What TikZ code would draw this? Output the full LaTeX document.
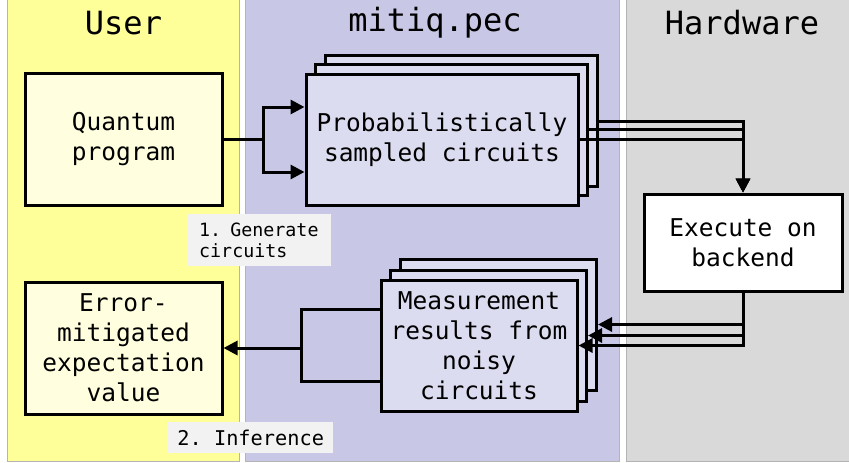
\documentclass[tikz,border=0pt]{standalone}
\usepackage{fontspec}
\setmonofont{DejaVu Sans Mono}
\usetikzlibrary{arrows.meta,calc}
\definecolor{laneY}{HTML}{FFFF99}
\definecolor{laneP}{HTML}{C8C8E6}
\definecolor{laneG}{HTML}{D9D9D9}
\definecolor{laneEdge}{HTML}{B4B4B4}
\definecolor{boxY}{HTML}{FFFFDF}
\definecolor{boxP}{HTML}{DCDCF0}
\definecolor{lblfill}{HTML}{F2F2F2}
\begin{document}
\begin{tikzpicture}[x=1pt,y=-1pt,
  lane/.style={draw=laneEdge,line width=0.8pt},
  title/.style={font=\ttfamily\fontsize{32}{36}\selectfont},
  boxbase/.style={draw=black,line width=3pt,inner sep=0pt,align=center,
    font=\ttfamily\fontsize{24.5}{30}\selectfont},
  ybox/.style={boxbase,fill=boxY,minimum width=197pt,minimum height=132pt},
  pbox/.style={boxbase,fill=boxP},
  wbox/.style={boxbase,fill=white,minimum width=198pt,minimum height=97pt},
  lbl/.style={fill=lblfill,anchor=north west,inner ysep=0pt},
  conn/.style={line width=3pt},
  arr/.style={conn,-{Triangle[length=14pt,width=14pt]}}
]
\useasboundingbox (0,0) rectangle (849,463);
\fill[white] (0,0) rectangle (849,463);
\filldraw[lane,fill=laneY] (7,-2) rectangle (239,461);
\filldraw[lane,fill=laneP] (245,-2) rectangle (619,461);
\filldraw[lane,fill=laneG] (626,-2) rectangle (851,461);

\node[title] (tu) at (123.5,23) {User};
\node[title] (tm) at (435,23) {mitiq.pec};
\node[title] (th) at (742,23) {Hardware};

\node[ybox] (q) at (123.5,139) {Quantum\\program};
\node[ybox] (err) at (123.5,348) {Error-\\mitigated\\expectation\\value};

\node[pbox,minimum width=272pt,minimum height=131pt] (s3) at (461,121) {};
\node[pbox,minimum width=272pt,minimum height=131pt] (s2) at (451,129.5) {};
\node[pbox,minimum width=272pt,minimum height=131pt] (s1) at (442,139.5) {Probabilistically\\sampled circuits};

\node[wbox] (ex) at (743,242.5) {Execute on\\backend};

\node[pbox,minimum width=196pt,minimum height=131pt] (m3) at (498.5,324.5) {};
\node[pbox,minimum width=196pt,minimum height=131pt] (m2) at (488.5,335.5) {};
\node[pbox,minimum width=196pt,minimum height=131pt] (m1) at (479,345.5) {Measurement\\results from\\noisy\\circuits};

\node[lbl,inner xsep=11pt,text width=121pt,align=left,minimum height=52pt,
  font=\ttfamily\fontsize{18.3}{21}\selectfont] (l1) at (188,214) {1. Generate\\circuits};
\node[lbl,minimum width=165pt,minimum height=31pt,
  font=\ttfamily\fontsize{20.3}{24}\selectfont] (l2) at (168,422) {2. Inference};

% generate
\coordinate (j1) at (263,139);
\draw[conn] (q.east) -- (j1);
\draw[arr] (j1) |- ($(s1.west)+(0,-32.5)$);
\draw[arr] (j1) |- ($(s1.west)+(0,32.5)$);

% to hardware
\draw[arr] (s3.east) -| (ex.north);
\draw[arr] (s2.east) -| (ex.north);
\draw[arr] (s1.east) -| (ex.north);

% back from hardware
\draw[arr] (ex.south) |- (m3.east);
\draw[arr] (ex.south) |- (m2.east);
\draw[arr] (ex.south) |- (m1.east);

% inference
\coordinate (j2) at (301,348);
\draw[conn] ($(m1.west)+(0,-36)$) -| (j2);
\draw[conn] ($(m1.west)+(0,36)$) -| (j2);
\draw[arr] (j2) -- (err.east);
\end{tikzpicture}
\end{document}
